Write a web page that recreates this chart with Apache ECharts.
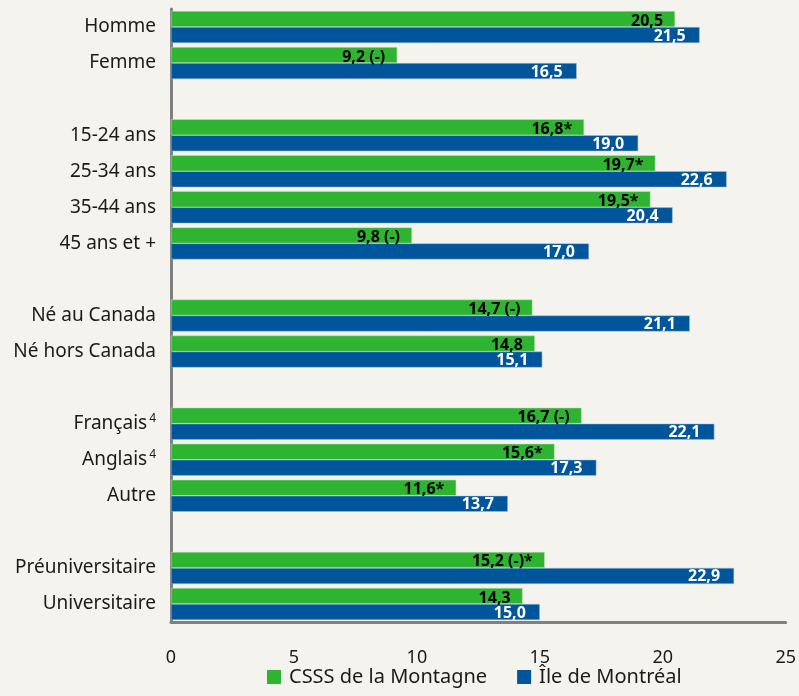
<!DOCTYPE html>
<html>
<head>
<meta charset="utf-8">
<script src="https://cdn.jsdelivr.net/npm/echarts@6/dist/echarts.min.js"></script>
<style>
html,body{margin:0;padding:0;background:#f5f3ee;}
#c{width:799px;height:696px;}
</style>
</head>
<body>
<div id="c"></div>
<script>
const categories = ['Homme','Femme',' ','15-24 ans','25-34 ans','35-44 ans','45 ans et +','  ','Né au Canada','Né hors Canada','   ','Français|4','Anglais|4','Autre','    ','Préuniversitaire','Universitaire'];
const csssValues = [20.5, 9.2, null, 16.8, 19.7, 19.5, 9.8, null, 14.7, 14.8, null, 16.7, 15.6, 11.6, null, 15.2, 14.3];
const csssLabels = ['20,5','9,2 (-)','','16,8*','19,7*','19,5*','9,8 (-)','','14,7 (-)','14,8','','16,7 (-)','15,6*','11,6*','','15,2 (-)*','14,3'];
const mtlValues = [21.5, 16.5, null, 19.0, 22.6, 20.4, 17.0, null, 21.1, 15.1, null, 22.1, 17.3, 13.7, null, 22.9, 15.0];
const mtlLabels = ['21,5','16,5','','19,0','22,6','20,4','17,0','','21,1','15,1','','22,1','17,3','13,7','','22,9','15,0'];
const xTicks = [0, 5, 10, 15, 20, 25];
const seriesNames = ['CSSS de la Montagne', 'Île de Montréal'];

const FONT = '"Noto Sans", "Open Sans", sans-serif';
const chart = echarts.init(document.getElementById('c'));
chart.setOption({
  backgroundColor: '#f5f3ee',
  animation: false,
  textStyle: { fontFamily: FONT },
  grid: { left: 171, right: 11, top: 9, bottom: 74, containLabel: false },
  legend: {
    bottom: 4,
    left: 262,
    icon: 'rect',
    itemWidth: 14,
    itemHeight: 14,
    itemGap: 30,
    itemStyle: { borderWidth: 0 },
    textStyle: { fontSize: 20, color: '#1a1a1a', fontFamily: FONT, padding: [0, 0, 0, 3] },
    data: seriesNames
  },
  xAxis: {
    type: 'value',
    min: xTicks[0],
    max: xTicks[xTicks.length - 1],
    interval: 5,
    axisLine: { show: true, onZero: false, lineStyle: { color: '#808080', width: 3 } },
    axisTick: { show: false },
    splitLine: { show: false },
    axisLabel: { fontSize: 18, color: '#1a1a1a', margin: 27 }
  },
  yAxis: {
    type: 'category',
    inverse: true,
    data: categories,
    axisLine: { show: true, lineStyle: { color: '#808080', width: 3 } },
    axisTick: { show: false },
    axisLabel: {
      margin: 15,
      formatter: function (v) {
        const p = v.split('|');
        return p.length > 1 ? '{a|' + p[0] + '}{s|' + p[1] + '}' : '{a|' + v + '}';
      },
      rich: {
        a: { fontSize: 19, color: '#1a1a1a', fontFamily: FONT },
        s: { fontSize: 12, color: '#1a1a1a', fontFamily: FONT, padding: [0, 0, 11, 2] }
      }
    }
  },
  series: [
    {
      name: seriesNames[0],
      type: 'bar',
      barWidth: 16,
      barGap: '0%',
      itemStyle: { color: '#2eb431', borderColor: '#c8e6c0', borderWidth: 0.5 },
      data: csssValues,
      label: {
        show: true,
        position: 'insideRight',
        distance: 12,
        offset: [0, 2],
        color: '#000',
        fontWeight: 'bold',
        fontSize: 16,
        formatter: p => csssLabels[p.dataIndex]
      }
    },
    {
      name: seriesNames[1],
      type: 'bar',
      barWidth: 16,
      barGap: '0%',
      itemStyle: { color: '#01559b', borderColor: '#a9c3dc', borderWidth: 0.5 },
      data: mtlValues,
      label: {
        show: true,
        position: 'insideRight',
        distance: 14,
        offset: [0, 1],
        color: '#fff',
        fontWeight: 'bold',
        fontSize: 16,
        formatter: p => mtlLabels[p.dataIndex]
      }
    }
  ]
});
</script>
</body>
</html>
